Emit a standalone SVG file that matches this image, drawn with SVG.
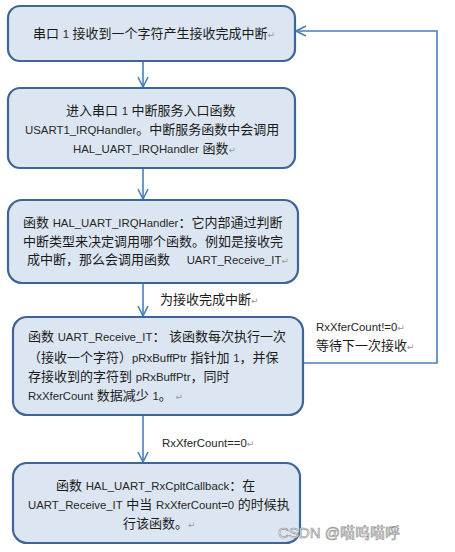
<svg xmlns="http://www.w3.org/2000/svg" width="455" height="552" viewBox="0 0 455 552">
<style>
.box{fill:#dce6f2;stroke:#3d6596;stroke-width:2.2}
.t{font-family:"Liberation Sans","Noto Sans CJK SC",sans-serif;font-size:13px;fill:#1a1a1a}
.l{font-size:11.4px;fill:#262626}
.m{fill:#9a9a9a;font-size:9px;font-family:"DejaVu Sans",sans-serif}
.line{fill:none;stroke:#4a7ebb;stroke-width:1.6}
.wm{font-family:"Liberation Sans","Noto Sans CJK SC",sans-serif;font-size:15px;fill:#ffffff;stroke:#8a8a8a;stroke-width:0.6}
</style>
<defs>
<marker id="arr" viewBox="0 0 12 12" refX="11" refY="6" markerWidth="12" markerHeight="12" markerUnits="userSpaceOnUse" orient="auto">
<path d="M1,1 L11,6 L1,11" fill="none" stroke="#4a7ebb" stroke-width="1.6"/>
</marker>
</defs>
<rect width="455" height="552" fill="#ffffff"/>
<g id="connectors">
<line class="line" x1="143" y1="61" x2="143" y2="87" marker-end="url(#arr)"/>
<line class="line" x1="143" y1="168" x2="143" y2="199" marker-end="url(#arr)"/>
<line class="line" x1="143" y1="283" x2="143" y2="316" marker-end="url(#arr)"/>
<line class="line" x1="143" y1="415" x2="143" y2="462" marker-end="url(#arr)"/>
<polyline class="line" points="303,363 437,363 437,31 296,31" marker-end="url(#arr)"/>
<text class="t" x="160" y="304">为接收完成中断<tspan class="m">↵</tspan></text>
<text class="t" x="162" y="447"><tspan class="l">RxXferCount==0</tspan><tspan class="m">↵</tspan></text>
<text class="t" x="316" y="331"><tspan class="l">RxXferCount!=0</tspan><tspan class="m">↵</tspan></text>
<text class="t" x="316" y="350">等待下一次接收<tspan class="m">↵</tspan></text>
</g>
<g id="node1">
<rect class="box" x="8" y="6" width="287" height="55" rx="12"/>
<text class="t" x="33" y="38">串口 <tspan class="l" fill="#b0650f">1</tspan> 接收到一个字符产生接收完成中断<tspan class="m">↵</tspan></text>
</g>
<g id="node2">
<rect class="box" x="8" y="88" width="287" height="80" rx="12"/>
<text class="t" x="66" y="115">进入串口 <tspan class="l">1</tspan> 中断服务入口函数</text>
<text class="t" x="25" y="134"><tspan class="l">USART1_IRQHandler</tspan>。中断服务函数中会调用</text>
<text class="t" x="73" y="153"><tspan class="l">HAL_UART_IRQHandler</tspan> 函数<tspan class="m">↵</tspan></text>
</g>
<g id="node3">
<rect class="box" x="8" y="200" width="290" height="83" rx="14"/>
<text class="t" x="23" y="227">函数 <tspan class="l">HAL_UART_IRQHandler</tspan>：它内部通过判断</text>
<text class="t" x="23" y="246">中断类型来决定调用哪个函数。例如是接收完</text>
<text class="t" x="27" y="264">成中断，那么会调用函数　 <tspan class="l">UART_Receive_IT</tspan><tspan class="m">↵</tspan></text>
</g>
<g id="node4">
<rect class="box" x="13" y="317" width="290" height="98" rx="14"/>
<text class="t" x="28" y="341">函数 <tspan class="l">UART_Receive_IT</tspan>： 该函数每次执行一次</text>
<text class="t" x="28" y="362">（接收一个字符）<tspan class="l">pRxBuffPtr</tspan> 指针加 <tspan class="l">1</tspan>，并保</text>
<text class="t" x="28" y="381">存接收到的字符到 <tspan class="l">pRxBuffPtr</tspan>，同时</text>
<text class="t" x="28" y="400"><tspan class="l">RxXferCount</tspan> 数据减少 <tspan class="l">1</tspan>。  <tspan class="m">↵</tspan></text>
</g>
<g id="node5">
<rect class="box" x="13" y="463" width="287" height="80" rx="14"/>
<text class="t" x="56" y="490">函数 <tspan class="l">HAL_UART_RxCpltCallback</tspan>：在</text>
<text class="t" x="28" y="509"><tspan class="l">UART_Receive_IT</tspan> 中当 <tspan class="l">RxXferCount=0</tspan> 的时候执</text>
<text class="t" x="123" y="528">行该函数。<tspan class="m">↵</tspan></text>
</g>
<text class="wm" x="278" y="538">CSDN @喵呜喵呼</text>
</svg>
